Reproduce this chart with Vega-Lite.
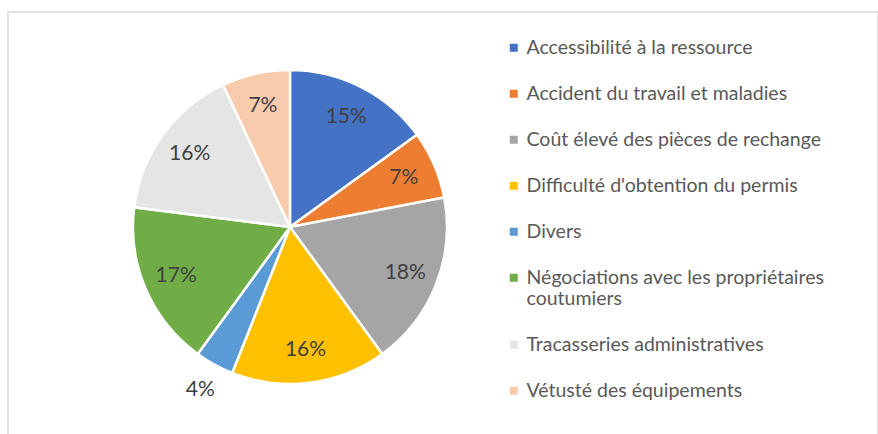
{
  "$schema": "https://vega.github.io/schema/vega-lite/v6.json",
  "width": 870,
  "height": 430,
  "autosize": {"type": "none"},
  "padding": {"left": 8, "top": 12, "right": 0, "bottom": 0},
  "background": "white",
  "view": {"stroke": "#d9d9d9", "strokeWidth": 1.5, "fill": "white"},
  "config": {"view": {"stroke": "#d9d9d9", "strokeWidth": 1.5}, "font": "Lato"},
  "data": {
    "values": [
      {"cause": "Accessibilité à la ressource", "pct": 15, "ord": 1, "label": "15%"},
      {"cause": "Accident du travail et maladies", "pct": 7, "ord": 2, "label": "7%"},
      {"cause": "Coût élevé des pièces de rechange", "pct": 18, "ord": 3, "label": "18%"},
      {"cause": "Difficulté d'obtention du permis", "pct": 16, "ord": 4, "label": "16%"},
      {"cause": "Divers", "pct": 4, "ord": 5, "label": "4%"},
      {"cause": "Négociations avec les propriétaires coutumiers", "pct": 17, "ord": 6, "label": "17%"},
      {"cause": "Tracasseries administratives", "pct": 16, "ord": 7, "label": "16%"},
      {"cause": "Vétusté des équipements", "pct": 7, "ord": 8, "label": "7%"}
    ]
  },
  "encoding": {
    "theta": {"field": "pct", "type": "quantitative", "stack": true},
    "order": {"field": "ord", "type": "quantitative"},
    "color": {
      "field": "cause",
      "type": "nominal",
      "sort": {"field": "ord"},
      "scale": {
        "domain": ["Accessibilité à la ressource", "Accident du travail et maladies", "Coût élevé des pièces de rechange", "Difficulté d'obtention du permis", "Divers", "Négociations avec les propriétaires coutumiers", "Tracasseries administratives", "Vétusté des équipements"],
        "range": ["#4472C4", "#ED7D31", "#A5A5A5", "#FFC000", "#5B9BD5", "#70AD47", "#E5E5E5", "#F8CBAD"]
      },
      "legend": {
        "orient": "none",
        "legendX": 496,
        "legendY": 26,
        "direction": "vertical",
        "title": null,
        "symbolType": "square",
        "symbolSize": 64,
        "symbolStrokeWidth": 0,
        "labelFont": "Lato",
        "labelFontSize": 19.5,
        "labelColor": "#595959",
        "labelOffset": 3,
        "labelLimit": 400,
        "labelLineHeight": 20,
        "rowPadding": 25,
        "padding": 0,
        "labelExpr": "datum.label == 'Négociations avec les propriétaires coutumiers' ? ['Négociations avec les propriétaires', 'coutumiers'] : datum.label"
      }
    }
  },
  "layer": [
    {
      "mark": {"type": "arc", "outerRadius": 157, "stroke": "white", "strokeWidth": 2.5, "x": {"expr": "width*0.3241"}}
    },
    {
      "mark": {"type": "text", "radius": 124, "fontSize": 21, "font": "Lato", "fill": "#404040", "x": {"expr": "width*0.3241"}},
      "encoding": {
        "text": {"condition": {"test": "datum.ord != 5", "field": "label"}, "value": ""},
        "color": {"value": "#404040"}
      }
    },
    {
      "mark": {"type": "text", "radius": 186, "fontSize": 21, "font": "Lato", "fill": "#404040", "x": {"expr": "width*0.3241"}},
      "encoding": {
        "text": {"condition": {"test": "datum.ord == 5", "field": "label"}, "value": ""},
        "color": {"value": "#404040"}
      }
    }
  ]
}
